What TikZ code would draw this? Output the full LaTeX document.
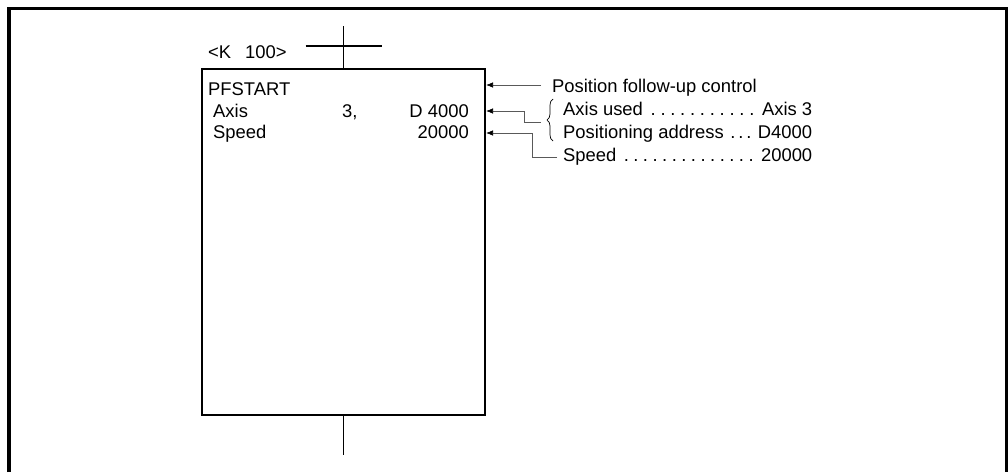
\documentclass[tikz,border=0pt]{standalone}
\usepackage{fontspec}
\setmainfont{Liberation Sans}
\usetikzlibrary{arrows.meta,decorations.pathreplacing,calc}

% dotted leader row of fixed width
\newcommand{\dotrow}[3][9.5pt]{\makebox[249pt][l]{#2\ \xleaders\hbox to #1{\hss.\hss}\hfill\ #3}}

\begin{document}
\begin{tikzpicture}[x=1pt,y=-1pt,
    every node/.style={font=\fontsize{18.4}{21}\selectfont, inner sep=0pt},
    lbl/.style={anchor=base west},
    bus/.style={line width=1.8pt},
    conn/.style={line width=0.7pt, draw=black!65, -{Latex[length=7pt,width=5.5pt,color=black]}},
    ]
    \useasboundingbox (0,0) rectangle (1008,472);

    % outer frame
    \draw[line width=3.5pt] (9,472) -- (9,8.5) -- (1006.5,8.5) -- (1006.5,472);

    % instruction box
    \node[draw, bus, minimum width=283pt, minimum height=346pt] (inst) at (343.5,242) {};
    \draw[bus] (inst.north) -- ++(0,-42);
    \draw[bus] (inst.south) -- ++(0,39);
    \draw[bus] ($(inst.north)+(-38,-22)$) -- ++(76,0);
    \node[lbl] (kval) at (208,58) {<K\hspace*{14pt}100>};

    \node[lbl] (pfs) at (208,95) {PFSTART};
    \node[lbl] (axis) at (213,117) {Axis};
    \node[lbl] (spd) at (213,138) {Speed};
    \node[anchor=base west] (axn) at (342,117) {3,};
    \node[anchor=base east] (adr) at (469,117) {D 4000};
    \node[anchor=base east] (spv) at (469,138) {20000};

    % explanations
    \node[lbl] (pfu) at (552,92) {Position follow-up control};
    \node[lbl] (used) at (563,115) {\dotrow{Axis used}{Axis 3}};
    \node[lbl] (padr) at (563,138) {\dotrow[7.8pt]{Positioning address}{D4000}};
    \node[lbl] (sped) at (563,161) {\dotrow{Speed}{20000}};
    \draw[line width=0.7pt, decorate, decoration={brace, amplitude=6pt}]
        (553,141) -- (553,99);

    % arrows into the box
    \coordinate (t1) at (486,85);
    \coordinate (t2) at (486,111);
    \coordinate (t3) at (486,133);
    \coordinate (p1) at (541,85);
    \coordinate (brc) at (541,122);
    \coordinate (s3) at (557,157);
    \draw[conn] (p1) -- (t1);
    \draw[conn] (brc) -- ++(-17,0) |- (t2);
    \draw[conn] (s3) -- ++(-25,0) |- (t3);
\end{tikzpicture}
\end{document}
